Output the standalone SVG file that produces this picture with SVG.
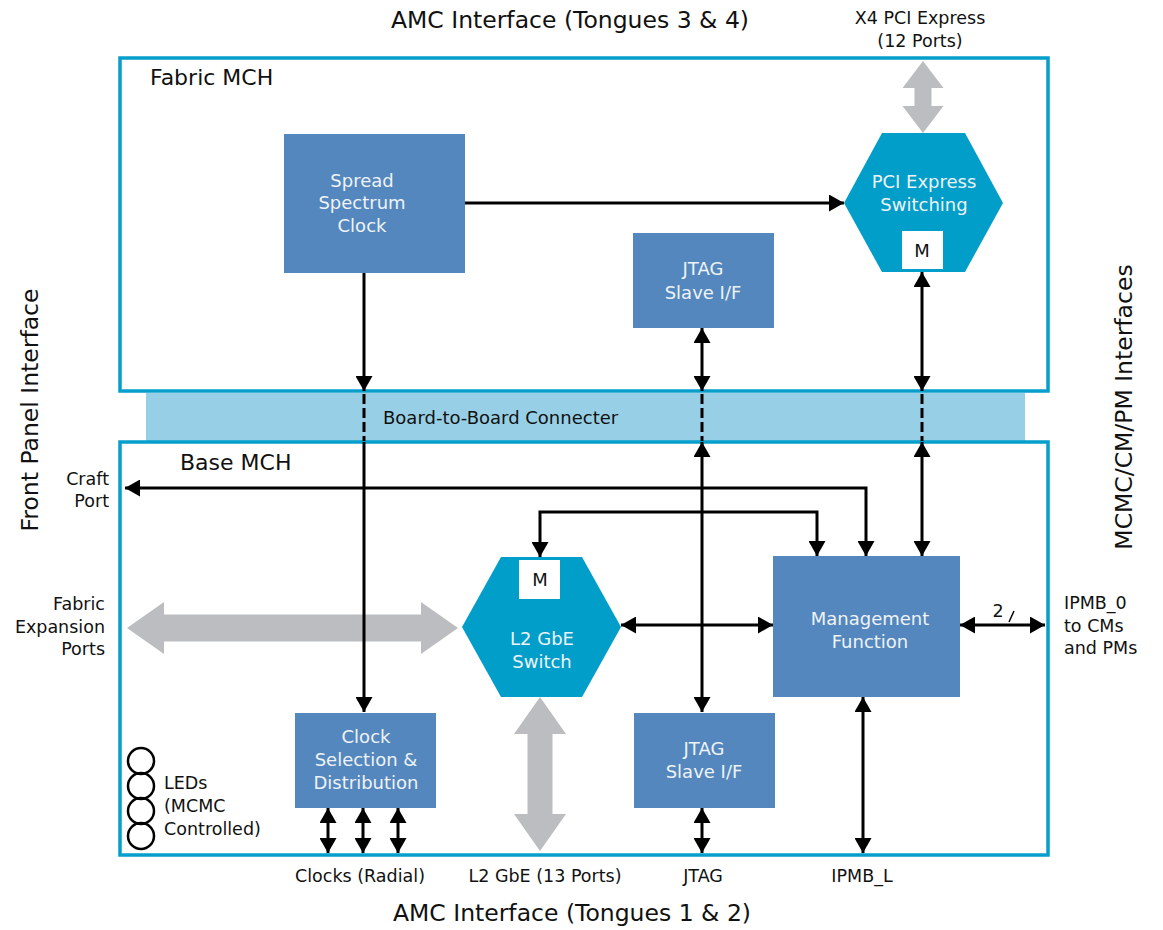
<svg xmlns="http://www.w3.org/2000/svg" width="1163" height="930" viewBox="0 0 1163 930">
<style>
text{font-family:"DejaVu Sans","Liberation Sans",sans-serif;fill:#111}
.t{font-size:17.5px}
.title{font-size:23.5px}
.hdr{font-size:22px}
.lbl{font-size:18px;fill:#eef3f8;text-anchor:middle}
.m{font-size:18px;fill:#111;text-anchor:middle}
.mid{text-anchor:middle}
.end{text-anchor:end}
.frame{fill:none;stroke:#069ecb;stroke-width:3.5}
.box{fill:#5487bd}
.hex{fill:#009ec9}
.gray{fill:#bcbdc0}
.ln{fill:none;stroke:#000;stroke-width:3}
.dash{fill:none;stroke:#000;stroke-width:3;stroke-dasharray:10 4}
.bi{marker-start:url(#ah);marker-end:url(#ah)}
.one{marker-end:url(#ah)}
</style>
<defs>
<marker id="ah" markerUnits="userSpaceOnUse" markerWidth="15" markerHeight="17" viewBox="0 0 15 17" refX="15" refY="8.5" orient="auto-start-reverse">
<path d="M0,0 L15,8.5 L0,17 z" fill="#000"/>
</marker>
</defs>
<rect width="1163" height="930" fill="#fff"/>

<g id="band">
<rect x="146" y="393" width="879" height="48" fill="#97d0e6"/>
<text x="383" y="424" style="font-size:18px">Board-to-Board Connecter</text>
</g>
<g id="fabric-mch">
<rect class="frame" x="120" y="58" width="928" height="333"/>
<text class="hdr" x="150" y="85">Fabric MCH</text>
</g>
<g id="base-mch">
<rect class="frame" x="120" y="442" width="928" height="413"/>
<text class="hdr" x="180" y="470">Base MCH</text>
</g>

<g id="titles">
<text class="title mid" x="570" y="28">AMC Interface (Tongues 3 &amp; 4)</text>
<text class="title mid" x="572" y="921">AMC Interface (Tongues 1 &amp; 2)</text>
<text class="title mid" transform="translate(38,410) rotate(-90)">Front Panel Interface</text>
<text class="title mid" transform="translate(1132,407) rotate(-90)">MCMC/CM/PM Interfaces</text>
</g>

<g id="connectors">
<polygon class="gray" points="923,61 943.5,88 931.5,88 931.5,106 943.5,106 923,133 902.5,106 914.5,106 914.5,88 902.5,88"/>
<polygon class="gray" points="127,628 164,602 164,614.5 421,614.5 421,602 458,628 421,654 421,641.5 164,641.5 164,654"/>
<polygon class="gray" points="540,697 566,734 552.5,734 552.5,814 566,814 540,851 514,814 527.5,814 527.5,734 514,734"/>
<path class="ln one" d="M465,203 H844"/>
<path class="ln one" d="M364,273 V391"/>
<path class="dash" d="M364,394 V441"/>
<path class="ln one" d="M364,442 V712"/>
<path class="ln bi" d="M702,328 V391"/>
<path class="dash" d="M702,394 V441"/>
<path class="ln bi" d="M702,442 V712"/>
<path class="ln bi" d="M702,808 V853"/>
<path class="ln bi" d="M922,272 V391"/>
<path class="dash" d="M922,394 V441"/>
<path class="ln bi" d="M922,442 V556"/>
<path class="ln bi" d="M125,488 H866 V556"/>
<path class="ln bi" d="M540,557 V512 H817 V556"/>
<path class="ln bi" d="M621,625 H773"/>
<path class="ln bi" d="M960,625 H1045"/>
<line x1="1009" y1="622" x2="1014" y2="611" stroke="#000" stroke-width="1.5"/>
<text class="t mid" x="998" y="617">2</text>
<path class="ln bi" d="M863,697 V853"/>
<path class="ln bi" d="M328,808 V853"/>
<path class="ln bi" d="M363,808 V853"/>
<path class="ln bi" d="M398,808 V853"/>
</g>

<g id="spread-spectrum-clock">
<rect class="box" x="284" y="134" width="181" height="139"/>
<text class="lbl" x="362" y="187">Spread</text>
<text class="lbl" x="362" y="209">Spectrum</text>
<text class="lbl" x="362" y="232">Clock</text>
</g>
<g id="pci-express-switching">
<polygon class="hex" points="844,203 882,133 965,133 1003,203 965,272 882,272"/>
<text class="lbl" x="924" y="188">PCI Express</text>
<text class="lbl" x="924" y="211">Switching</text>
<rect x="902" y="231" width="41" height="38" fill="#fff"/>
<text class="m" x="922" y="257">M</text>
</g>
<g id="jtag-top">
<rect class="box" x="633" y="233" width="141" height="95"/>
<text class="lbl" x="703" y="275">JTAG</text>
<text class="lbl" x="703" y="299">Slave I/F</text>
</g>
<g id="l2-gbe-switch">
<polygon class="hex" points="462,627 501,557 582,557 621,627 582,697 501,697"/>
<rect x="519" y="560" width="41" height="39" fill="#fff"/>
<text class="m" x="540" y="586">M</text>
<text class="lbl" x="542" y="645">L2 GbE</text>
<text class="lbl" x="542" y="668">Switch</text>
</g>
<g id="management-function">
<rect class="box" x="773" y="556" width="187" height="141"/>
<text class="lbl" x="870" y="625">Management</text>
<text class="lbl" x="870" y="648">Function</text>
</g>
<g id="clock-selection">
<rect class="box" x="295" y="713" width="141" height="95"/>
<text class="lbl" x="366" y="743">Clock</text>
<text class="lbl" x="366" y="766">Selection &amp;</text>
<text class="lbl" x="366" y="789">Distribution</text>
</g>
<g id="jtag-bottom">
<rect class="box" x="634" y="713" width="141" height="95"/>
<text class="lbl" x="704" y="755">JTAG</text>
<text class="lbl" x="704" y="778">Slave I/F</text>
</g>
<g id="leds">
<circle cx="141" cy="761" r="13" fill="none" stroke="#000" stroke-width="2.5"/>
<circle cx="141" cy="786" r="13" fill="none" stroke="#000" stroke-width="2.5"/>
<circle cx="141" cy="811" r="13" fill="none" stroke="#000" stroke-width="2.5"/>
<circle cx="141" cy="836" r="13" fill="none" stroke="#000" stroke-width="2.5"/>
<text class="t" x="164" y="789">LEDs</text>
<text class="t" x="164" y="812">(MCMC</text>
<text class="t" x="164" y="835">Controlled)</text>
</g>
<g id="labels">
<text class="t mid" x="920" y="24">X4 PCI Express</text>
<text class="t mid" x="920" y="47">(12 Ports)</text>
<text class="t end" x="109" y="485">Craft</text>
<text class="t end" x="109" y="507">Port</text>
<text class="t end" x="105" y="610">Fabric</text>
<text class="t end" x="105" y="633">Expansion</text>
<text class="t end" x="105" y="655">Ports</text>
<text class="t" x="1064" y="609">IPMB_0</text>
<text class="t" x="1064" y="632">to CMs</text>
<text class="t" x="1064" y="654">and PMs</text>
<text class="t mid" x="360" y="882">Clocks (Radial)</text>
<text class="t mid" x="545" y="882">L2 GbE (13 Ports)</text>
<text class="t mid" x="703" y="882">JTAG</text>
<text class="t mid" x="862" y="882">IPMB_L</text>
</g>
</svg>
